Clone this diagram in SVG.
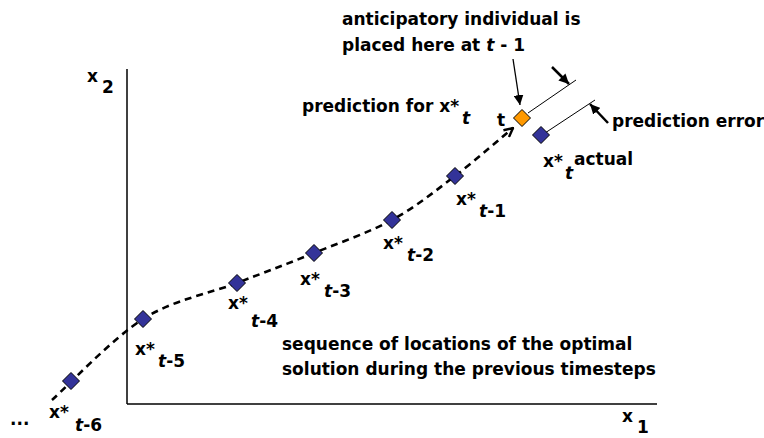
<svg xmlns="http://www.w3.org/2000/svg" width="764" height="438" viewBox="0 0 764 438">
<defs>
<style>
text{font-family:"DejaVu Sans","Verdana",sans-serif;font-weight:bold;font-size:17px;fill:#000}
.it{font-style:italic}
.d{fill:#333399;stroke:#000;stroke-width:1}
.o{fill:#FF9900;stroke:#000;stroke-width:1}
.ax{stroke:#000;stroke-width:1.5;fill:none}
.thin{stroke:#000;stroke-width:1;fill:none}
</style>
<marker id="ah" viewBox="0 0 10 10" refX="10" refY="5" markerWidth="10" markerHeight="10" markerUnits="userSpaceOnUse" orient="auto">
<path d="M0,0 L10,5 L0,10 Z" fill="#000"/>
</marker>
<marker id="open" viewBox="0 0 10 10" refX="9" refY="5" markerWidth="11" markerHeight="11" markerUnits="userSpaceOnUse" orient="auto">
<path d="M1,1 L9,5 L1,9" fill="none" stroke="#000" stroke-width="2.2"/>
</marker>
<path id="dia" d="M0,-8.5 L8.5,0 L0,8.5 L-8.5,0 Z"/>
</defs>
<g id="axes">
<line class="ax" x1="127" y1="69" x2="127" y2="404"/>
<line class="ax" x1="127" y1="404" x2="657" y2="404"/>
<text x="87" y="82">x</text><text x="102" y="93">2</text>
<text x="622" y="422">x</text><text x="637" y="433">1</text>
</g>
<g id="connectors">
<path d="M52,400 C67.2,386.5 112.2,338.5 143,319 C173.8,299.5 208.5,294 237,283 C265.5,272 288.2,263.5 314,253 C339.8,242.5 368.5,232.8 392,220 C415.5,207.2 434.8,191.3 455,176 C475.2,160.7 503.3,136 513,128" fill="none" stroke="#000" stroke-width="2.6" stroke-dasharray="7,5" marker-end="url(#open)"/>
<line x1="513" y1="59" x2="520" y2="105" stroke="#000" stroke-width="1.3" marker-end="url(#ah)"/>
<line class="thin" x1="528" y1="113" x2="576" y2="80"/>
<line class="thin" x1="545" y1="133" x2="595" y2="100"/>
<line x1="552" y1="67" x2="569" y2="84" stroke="#000" stroke-width="2.5" marker-end="url(#ah)"/>
<line x1="608" y1="123" x2="590" y2="104" stroke="#000" stroke-width="2.5" marker-end="url(#ah)"/>
</g>
<g id="n6"><use href="#dia" class="d" x="71" y="381"/><text x="49" y="418">x*</text><text x="75" y="431"><tspan class="it">t</tspan>-6</text></g>
<g id="n5"><use href="#dia" class="d" x="143" y="319"/><text x="135" y="355">x*</text><text x="158" y="367"><tspan class="it">t</tspan>-5</text></g>
<g id="n4"><use href="#dia" class="d" x="237" y="283"/><text x="228" y="309">x*</text><text x="251" y="327"><tspan class="it">t</tspan>-4</text></g>
<g id="n3"><use href="#dia" class="d" x="314" y="253"/><text x="300" y="285">x*</text><text x="324" y="297"><tspan class="it">t</tspan>-3</text></g>
<g id="n2"><use href="#dia" class="d" x="392" y="220"/><text x="383" y="249">x*</text><text x="407" y="261"><tspan class="it">t</tspan>-2</text></g>
<g id="n1"><use href="#dia" class="d" x="455" y="176"/><text x="456" y="205">x*</text><text x="479" y="217"><tspan class="it">t</tspan>-1</text></g>
<g id="pred"><use href="#dia" class="o" x="522" y="118"/><text x="497" y="126">t</text></g>
<g id="actual"><use href="#dia" class="d" x="541" y="135"/><text x="543" y="167">x*</text><text class="it" x="565" y="179">t</text><text x="574" y="165">actual</text></g>
<g id="labels">
<text x="10" y="425">...</text>
<text x="302" y="112">prediction for x*</text><text class="it" x="462" y="124">t</text>
<text x="342" y="25">anticipatory individual is</text>
<text x="342" y="51">placed here at <tspan class="it">t</tspan> - 1</text>
<text x="612" y="127">prediction error</text>
<text x="282" y="350">sequence of locations of the optimal</text>
<text x="282" y="375">solution during the previous timesteps</text>
</g>
</svg>
